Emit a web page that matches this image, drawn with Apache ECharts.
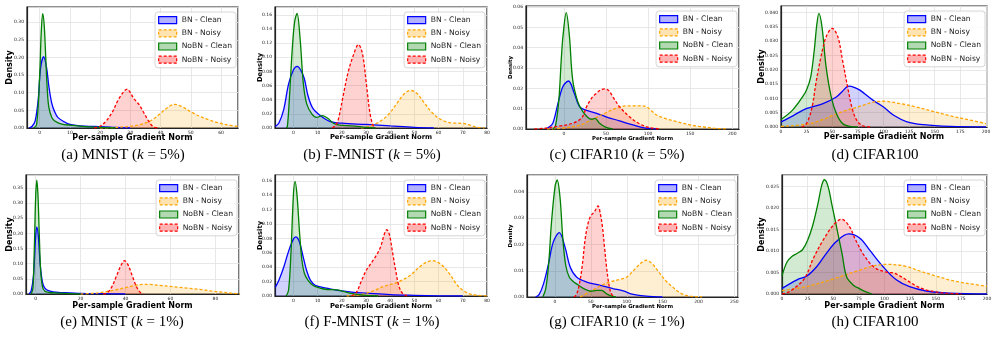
<!DOCTYPE html>
<html>
<head>
<meta charset="utf-8">
<script src="https://cdn.jsdelivr.net/npm/echarts@6/dist/echarts.min.js"></script>
<style>
  html, body { margin: 0; padding: 0; background: #fff; }
  #main { width: 1000px; height: 360px; }
</style>
</head>
<body>
<div id="main"></div>
<script>
// 密度曲线数据（从图上读出的 [梯度范数, 密度] 点）
// (a) MNIST k=5%
var mnist5BnClean = [[-3.5,0],[-2.5,0.005],[-1.5,0.02],[-0.5,0.08],[0.3,0.17],[1.3,0.202],[2.3,0.17],[3,0.12],[4,0.07],[5,0.045],[6,0.03],[8,0.018],[10,0.01],[15,0.005],[20,0.004],[25,0.002],[30,0]];
var mnist5BnNoisy = [[20,0],[26,0.002],[31,0.006],[34,0.012],[37,0.022],[39.5,0.038],[42,0.056],[44.5,0.067],[47,0.061],[50,0.046],[53,0.033],[56,0.023],[59,0.015],[62,0.009],[66,0.004]];
var mnist5NobnClean = [[-2,0],[-1,0.01],[0,0.15],[0.5,0.27],[1,0.324],[1.5,0.29],[2,0.2],[2.5,0.11],[3,0.06],[4,0.03],[5,0.02],[7,0.012],[10,0.008],[15,0.004],[20,0.002],[25,0]];
var mnist5NobnNoisy = [[18,0],[20,0.005],[22,0.02],[24,0.045],[26,0.08],[28,0.105],[29,0.11],[30,0.1],[31,0.085],[32,0.075],[33,0.065],[34,0.05],[35,0.035],[36,0.02],[37,0.008],[38,0.002],[39,0]];
// (b) F-MNIST k=5%
var fmnist5BnClean = [[-7.5,0.002],[-6,0.007],[-4,0.026],[-2,0.062],[0,0.082],[1.6,0.087],[3,0.082],[4.5,0.07],[6,0.046],[8,0.028],[11,0.018],[15,0.0095],[20,0.0068],[30,0.005],[40,0.003],[50,0.001],[58,0]];
var fmnist5BnNoisy = [[28,0],[31,0.002],[34,0.006],[37,0.012],[40,0.022],[43,0.036],[46,0.049],[48.5,0.053],[51,0.049],[54,0.036],[57,0.023],[60,0.014],[63,0.009],[66,0.007],[70,0.0065],[73,0.004],[76,0.001],[79,0]];
var fmnist5NobnClean = [[-3,0],[-2.5,0.002],[-1.7,0.039],[-0.5,0.11],[0.5,0.15],[1.5,0.162],[2.8,0.125],[4.1,0.063],[5.5,0.034],[7.6,0.02],[9.6,0.015],[12,0.0176],[14.5,0.013],[16.5,0.0067],[19,0.004],[24,0.003],[30,0.001],[34,0]];
var fmnist5NobnNoisy = [[16,0],[17.5,0.004],[18.7,0.014],[20.7,0.048],[22.7,0.08],[24.8,0.103],[26.9,0.118],[28,0.112],[29,0.096],[30.3,0.058],[31.7,0.02],[33,0.003],[34,0]];
// (c) CIFAR10 k=5%
var cifar5BnClean = [[-22,0],[-18,0.0008],[-13,0.003],[-7,0.0126],[-1,0.021],[5.5,0.0236],[12,0.018],[18.5,0.011],[26,0.0093],[38,0.0078],[50,0.006],[66,0.004],[82,0.002],[94,0.0007],[110,0]];
var cifar5BnNoisy = [[-20,0],[0,0.0005],[20,0.002],[30,0.004],[40,0.006],[50,0.008],[62,0.0102],[72,0.0113],[82,0.0114],[92,0.0114],[98,0.011],[104,0.009],[110,0.0069],[120,0.0052],[130,0.004],[140,0.003],[150,0.002],[160,0.0013],[170,0.0008],[180,0.0003],[195,0]];
var cifar5NobnClean = [[-13,0],[-10,0.0015],[-6,0.0143],[-3,0.035],[-1,0.046],[2.8,0.0572],[6.5,0.046],[10.5,0.024],[16.5,0.0134],[22.5,0.0085],[28.5,0.0057],[33,0.0048],[37,0.0052],[42,0.003],[50,0.0008],[58,0]];
var cifar5NobnNoisy = [[-35,0],[-20,0.0005],[-5,0.0015],[5,0.0022],[15,0.0036],[22,0.006],[27,0.011],[33,0.0152],[38.5,0.0175],[44,0.0193],[48.4,0.0197],[53,0.019],[58,0.016],[66,0.011],[78,0.006],[90,0.0025],[102,0.0007],[115,0]];
// (d) CIFAR100
var cifar100aBnClean = [[0,0.0018],[12,0.004],[24.5,0.0064],[41,0.0082],[54,0.0105],[60,0.0125],[66,0.0143],[72,0.0138],[77,0.0129],[90,0.0093],[100,0.007],[110,0.0041],[123,0.0018],[139,0.0008],[165,0.0002],[200,0]];
var cifar100aBnNoisy = [[0,0.0002],[25,0.001],[40,0.0025],[50,0.004],[62,0.0056],[75,0.007],[90,0.0087],[100,0.009],[116,0.0082],[132,0.007],[150,0.0053],[165,0.0039],[181,0.0027],[200,0.0012]];
var cifar100aNobnClean = [[0,0.0026],[11,0.0058],[21,0.0105],[25,0.013],[29,0.0175],[32.5,0.027],[35,0.036],[37,0.0397],[40,0.035],[44,0.021],[49,0.0105],[54,0.0047],[60,0.0012],[67,0.0002],[75,0]];
var cifar100aNobnNoisy = [[20,0],[24,0.0008],[27.7,0.0035],[31,0.0082],[34,0.0152],[39,0.0245],[44,0.0315],[50,0.0345],[55.5,0.0315],[60,0.0234],[65,0.014],[70,0.0058],[75,0.0018],[81.5,0.0002],[88,0]];
// (e) MNIST k=1%
var mnist1BnClean = [[-3,0],[-2,0.01],[-1,0.06],[0,0.19],[0.5,0.222],[1.2,0.19],[2,0.1],[3,0.04],[4,0.02],[6,0.01],[10,0.005],[15,0.004],[20,0.002],[30,0.001],[40,0]];
var mnist1BnNoisy = [[20,0],[25,0.002],[30,0.006],[35,0.013],[40,0.021],[44,0.028],[48,0.032],[52,0.031],[56,0.028],[60,0.025],[64,0.022],[68,0.019],[73,0.015],[78,0.01],[83,0.006],[88,0.002],[91,0.001]];
var mnist1NobnClean = [[-2,0],[-1.2,0.02],[-0.6,0.15],[0,0.32],[0.5,0.376],[1,0.33],[1.6,0.2],[2.2,0.08],[3,0.025],[4,0.01],[6,0.005],[10,0.003],[15,0.001],[20,0]];
var mnist1NobnNoisy = [[30,0],[32,0.005],[34,0.025],[36,0.06],[38,0.095],[39.5,0.11],[41,0.098],[43,0.06],[45,0.022],[46.5,0.006],[48,0]];
// (f) F-MNIST k=1%
var fmnist1BnClean = [[-7.5,0.012],[-6,0.022],[-4,0.04],[-2,0.062],[0,0.079],[1,0.082],[2.5,0.075],[4,0.055],[5.5,0.035],[7,0.022],[9,0.015],[12,0.012],[15,0.01],[20,0.007],[25,0.005],[30,0.004],[40,0.002],[50,0.001],[60,0.0003],[70,0]];
var fmnist1BnNoisy = [[22,0],[28,0.002],[33,0.007],[37,0.013],[42.7,0.0187],[48,0.028],[52,0.04],[55,0.047],[57.5,0.049],[61,0.044],[64.7,0.03],[68,0.014],[71.6,0.0047],[75.8,0.001],[80,0.0002]];
var fmnist1NobnClean = [[-3,0],[-2,0.008],[-1,0.06],[0,0.14],[0.7,0.159],[1.5,0.14],[2.5,0.09],[3.5,0.05],[4.5,0.032],[6,0.022],[8,0.015],[11,0.011],[14,0.009],[18,0.0085],[21,0.006],[25,0.003],[30,0.001],[35,0]];
var fmnist1NobnNoisy = [[24,0],[26,0.005],[28,0.02],[30,0.035],[32,0.045],[34,0.055],[36,0.068],[37.5,0.085],[38.6,0.092],[39.7,0.085],[41,0.06],[42.3,0.035],[43.5,0.015],[45,0.004],[47,0]];
// (g) CIFAR10 k=1%
var cifar1BnClean = [[-27,0],[-22,0.001],[-16,0.005],[-9,0.0127],[-2.3,0.021],[6,0.0245],[14,0.019],[21,0.0115],[30,0.0076],[44,0.0057],[62,0.0045],[81,0.0032],[95,0.0023],[109,0.001],[127,0.0003],[150,0]];
var cifar1BnNoisy = [[35,0],[45,0.0015],[55,0.003],[65,0.0045],[76,0.0057],[90,0.0067],[100,0.0076],[109,0.01],[118,0.0125],[127,0.014],[136,0.0125],[146,0.009],[155,0.006],[164,0.0038],[173,0.0018],[183,0.0006],[195,0.0001],[205,0]];
var cifar1NobnClean = [[-17,0],[-13,0.003],[-9,0.012],[-5,0.028],[0,0.042],[3,0.0446],[7,0.038],[11,0.022],[15,0.012],[20,0.0075],[25,0.006],[30,0.005],[40,0.0032],[50,0.0022],[58,0.0025],[65,0.0025],[72,0.0012],[80,0.0002],[85,0]];
var cifar1NobnNoisy = [[26,0],[30,0.001],[34,0.005],[38,0.012],[42,0.022],[46,0.028],[50,0.031],[55,0.0325],[60,0.0347],[63,0.032],[66,0.027],[69,0.019],[72,0.011],[75,0.005],[78,0.0015],[82,0]];
// (h) CIFAR100
var cifar100bBnClean = [[0,0.0013],[14.6,0.0033],[24.3,0.0042],[34,0.0064],[43.5,0.0095],[53,0.0122],[65,0.014],[76,0.013],[85.6,0.0102],[98.5,0.0064],[111.5,0.0033],[124.5,0.0017],[140.7,0.0007],[163,0.0002],[200,0]];
var cifar100bBnNoisy = [[0,0.0008],[25,0.0018],[50,0.0035],[75,0.0055],[90,0.0066],[102,0.0069],[120,0.0065],[135,0.0053],[150,0.0042],[165,0.0032],[180,0.0025],[200,0.0018]];
var cifar100bNobnClean = [[0,0.0042],[5,0.0075],[10,0.0088],[15,0.0095],[20,0.0103],[25,0.0125],[30,0.016],[35,0.021],[39,0.0255],[41.5,0.0266],[45,0.025],[48.5,0.021],[52,0.017],[58.5,0.0095],[63,0.004],[70,0.002],[76,0.0012],[82,0.0005],[88,0]];
var cifar100bNobnNoisy = [[0,0],[5,0.0003],[10,0.001],[20,0.003],[25,0.005],[30,0.008],[40,0.0125],[50,0.016],[58,0.0174],[65,0.016],[72,0.0125],[80,0.009],[90,0.0062],[100,0.0052],[105,0.005],[110,0.0048],[120,0.0035],[130,0.002],[140,0.001],[150,0.0005],[160,0.0002],[175,0]];

var panelData = [
    [mnist5BnClean, mnist5BnNoisy, mnist5NobnClean, mnist5NobnNoisy],
    [fmnist5BnClean, fmnist5BnNoisy, fmnist5NobnClean, fmnist5NobnNoisy],
    [cifar5BnClean, cifar5BnNoisy, cifar5NobnClean, cifar5NobnNoisy],
    [cifar100aBnClean, cifar100aBnNoisy, cifar100aNobnClean, cifar100aNobnNoisy],
    [mnist1BnClean, mnist1BnNoisy, mnist1NobnClean, mnist1NobnNoisy],
    [fmnist1BnClean, fmnist1BnNoisy, fmnist1NobnClean, fmnist1NobnNoisy],
    [cifar1BnClean, cifar1BnNoisy, cifar1NobnClean, cifar1NobnNoisy],
    [cifar100bBnClean, cifar100bBnNoisy, cifar100bNobnClean, cifar100bNobnNoisy]
];

var seriesNames = ['BN - Clean', 'BN - Noisy', 'NoBN - Clean', 'NoBN - Noisy'];
var captions = [
    '(a) MNIST ({k|k} = 5%)', '(b) F-MNIST ({k|k} = 5%)', '(c) CIFAR10 ({k|k} = 5%)', '(d) CIFAR100',
    '(e) MNIST ({k|k} = 1%)', '(f) F-MNIST ({k|k} = 1%)', '(g) CIFAR10 ({k|k} = 1%)', '(h) CIFAR100'
];

// 坐标轴范围与刻度
var xMin = [-4.2, -7.6, -45, 0, -4.3, -7.6, -39, 0];
var xMax = [65.6, 80, 208, 201, 90.5, 80, 255, 200];
var xStep = [10, 10, 50, 25, 20, 10, 50, 25];
var yMax = [0.343, 0.171, 0.0605, 0.0423, 0.393, 0.168, 0.0465, 0.0277];
var yStep = [0.05, 0.02, 0.01, 0.005, 0.05, 0.02, 0.01, 0.005];
var yDigits = [2, 2, 2, 3, 2, 2, 2, 3];

// 布局
var gridLeft = [27, 275, 526, 781, 26, 275, 527, 782];
var gridTop = [7, 7, 6, 6, 175, 175, 175, 175];
var gridWidth = [211, 212, 213, 206, 213, 212, 211, 205];
var gridHeight = [121, 121, 123, 121, 119, 121, 122, 119];
var nameSize = [8, 6.8, 5.4, 8, 8, 6.8, 5.4, 8];
var xNameGap = [6, 6, 7, 6, 8, 6.6, 7, 8];
var yNameGap = [13, 11.5, 13, 15, 12, 11.5, 14, 16];
var captionX = [123, 372, 617, 875, 122, 372, 617, 875];
var captionY = [155, 155, 155, 155, 322, 322, 322, 322];

var lineColors = ['#0000ff', '#ffa500', '#008000', '#ff0000'];
var fillColors = ['rgba(0,0,255,0.25)', 'rgba(255,165,0,0.25)', 'rgba(0,128,0,0.25)', 'rgba(255,0,0,0.25)'];
var legendFills = ['rgba(0,0,255,0.3)', 'rgba(255,165,0,0.3)', 'rgba(0,128,0,0.3)', 'rgba(255,0,0,0.3)'];
var dashed = [false, true, false, true];

var myChart = echarts.init(document.getElementById('main'));

function tickFormatter(step, digits) {
    return function (v) {
        var k = v / step;
        if (Math.abs(k - Math.round(k)) > 1e-6) return '';
        return digits > 0 ? v.toFixed(digits) : String(Math.round(v));
    };
}

var grids = [], xAxes = [], yAxes = [], legends = [], series = [], graphics = [];

for (var p = 0; p < 8; p++) {
    grids.push({
        left: gridLeft[p], top: gridTop[p], width: gridWidth[p], height: gridHeight[p],
        show: true, borderColor: '#222', borderWidth: 1.2, backgroundColor: 'transparent',
        containLabel: false, outerBoundsMode: 'none'
    });
    xAxes.push({
        type: 'value', gridIndex: p, min: xMin[p], max: xMax[p],
        minInterval: xStep[p], maxInterval: xStep[p],
        name: 'Per-sample Gradient Norm', nameLocation: 'middle', nameGap: xNameGap[p],
        nameMoveOverlap: false,
        nameTextStyle: { fontFamily: 'DejaVu Sans', fontWeight: 'bold', fontSize: nameSize[p], color: '#000' },
        axisLine: { show: true, onZero: false, lineStyle: { color: '#222', width: 1.2 } },
        axisTick: { show: false },
        axisLabel: { fontSize: 4.5, color: '#222', margin: 2, fontFamily: 'DejaVu Sans',
            formatter: tickFormatter(xStep[p], 0) },
        splitLine: { show: true, lineStyle: { color: '#e2e2e2', width: 0.8 } }
    });
    yAxes.push({
        type: 'value', gridIndex: p, min: 0, max: yMax[p],
        minInterval: yStep[p], maxInterval: yStep[p],
        name: 'Density', nameLocation: 'middle', nameGap: yNameGap[p],
        nameMoveOverlap: false,
        nameTextStyle: { fontFamily: 'DejaVu Sans', fontWeight: 'bold', fontSize: nameSize[p], color: '#000' },
        axisLine: { show: true, onZero: false, lineStyle: { color: '#222', width: 1.2 } },
        axisTick: { show: false },
        axisLabel: { fontSize: 4.5, color: '#222', margin: 3, fontFamily: 'DejaVu Sans',
            formatter: tickFormatter(yStep[p], yDigits[p]) },
        splitLine: { show: true, lineStyle: { color: '#e2e2e2', width: 0.8 } }
    });
    legends.push({
        orient: 'vertical',
        right: 1000 - (gridLeft[p] + gridWidth[p]) + 2,
        top: gridTop[p] + 5,
        padding: [4, 4, 4, 3],
        itemGap: 5, itemWidth: 18, itemHeight: 7, itemTextGap: 6,
        backgroundColor: 'rgba(255,255,255,0.85)',
        borderColor: '#cccccc', borderWidth: 0.8, borderRadius: 3,
        textStyle: { fontSize: 7.6, fontFamily: 'DejaVu Sans', color: '#222', lineHeight: 8 },
        selectedMode: false,
        data: seriesNames.map(function (n, i) {
            return {
                name: n, icon: 'rect',
                itemStyle: { color: legendFills[i], borderColor: lineColors[i], borderWidth: 1.2,
                    borderType: dashed[i] ? [3, 2] : 'solid' }
            };
        })
    });
    for (var s = 0; s < 4; s++) {
        series.push({
            type: 'line', name: seriesNames[s], xAxisIndex: p, yAxisIndex: p,
            data: panelData[p][s], smooth: 0.35, symbol: 'none', silent: true,
            lineStyle: { color: lineColors[s], width: 1.3, type: dashed[s] ? [3, 2] : 'solid' },
            itemStyle: { color: lineColors[s] },
            areaStyle: { color: fillColors[s], origin: 'start' }
        });
    }
    graphics.push({
        type: 'text', x: captionX[p], y: captionY[p], silent: true,
        style: {
            text: captions[p], align: 'center', verticalAlign: 'middle',
            fontFamily: 'Liberation Serif', fontSize: 15, fill: '#000',
            rich: { k: { fontFamily: 'Liberation Serif', fontSize: 15, fontStyle: 'italic', fill: '#000' } }
        }
    });
}

var option = {
    animation: false,
    backgroundColor: '#fff',
    grid: grids,
    xAxis: xAxes,
    yAxis: yAxes,
    legend: legends,
    series: series,
    graphic: graphics
};

myChart.setOption(option);
</script>
</body>
</html>
